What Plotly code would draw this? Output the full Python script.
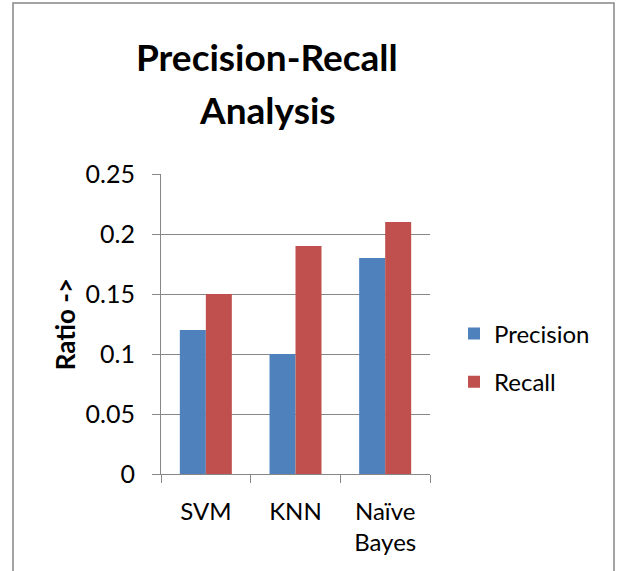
import plotly.graph_objects as go

categories = ["SVM", "KNN", "Naïve<br>Bayes"]
precision = [0.12, 0.10, 0.18]
recall = [0.15, 0.19, 0.21]
y_ticks = [0, 0.05, 0.1, 0.15, 0.2, 0.25]
y_tick_labels = ["0", "0.05", "0.1", "0.15", "0.2", "0.25"]
title_lines = ["Precision-Recall", "Analysis"]

FONT = "Lato"
GRID = "#878787"

fig = go.Figure()
fig.add_trace(go.Bar(x=categories, y=precision, name="Precision",
                     marker=dict(color="#4F81BD", line=dict(width=0)),
                     legendgroup="p"))
fig.add_trace(go.Bar(x=categories, y=recall, name="Recall",
                     marker=dict(color="#C0504D", line=dict(width=0)),
                     legendgroup="r"))

L, R, T, B = 161, 190, 174, 97
W, H = 620, 571
pw, ph = W - L - R, H - T - B

def px(x):
    return (x - L) / pw

def py(y):
    return (H - B - y) / ph

annotations = []
for line, yc in zip(title_lines, [56, 110]):
    annotations.append(dict(text=f"<b>{line}</b>", x=px(267), y=py(yc),
                            xref="paper", yref="paper", xanchor="center",
                            yanchor="middle", showarrow=False,
                            font=dict(family=FONT, size=37, color="black")))

fig.update_layout(
    width=W, height=H,
    margin=dict(l=L, r=R, t=T, b=B, autoexpand=False),
    paper_bgcolor="white", plot_bgcolor="white",
    font=dict(family=FONT, size=24, color="black"),
    bargap=0.42, bargroupgap=0,
    annotations=annotations,
    legend=dict(x=px(454), y=py(358), xanchor="left", yanchor="middle",
                font=dict(family=FONT, size=24), tracegroupgap=14,
                itemsizing="constant", bgcolor="rgba(0,0,0,0)"),
    showlegend=True,
    shapes=[dict(type="rect", xref="paper", yref="paper",
                 x0=px(13), x1=px(614), y0=py(590), y1=py(3),
                 line=dict(color=GRID, width=1.5), fillcolor="rgba(0,0,0,0)",
                 layer="below")],
)

fig.update_yaxes(range=[0, 0.25], tickvals=y_ticks, ticktext=y_tick_labels,
                 showgrid=True, gridcolor=GRID, gridwidth=1,
                 showline=True, linecolor=GRID, linewidth=1,
                 ticks="outside", ticklen=8, tickcolor=GRID,
                 ticklabelstandoff=12,
                 tickfont=dict(family=FONT, size=25),
                 zeroline=False, automargin=False,
                 title=dict(text="<b>Ratio -></b>", font=dict(family=FONT, size=26), standoff=2))
fig.update_xaxes(showline=True, linecolor=GRID, linewidth=1,
                 ticks="outside", ticklen=8, tickcolor=GRID, tickson="boundaries",
                 ticklabelstandoff=16, automargin=False,
                 tickfont=dict(family=FONT, size=24), showgrid=False)

fig.write_html("out.html", config={"displayModeBar": False},
               post_script="document.body.style.margin='0';")
